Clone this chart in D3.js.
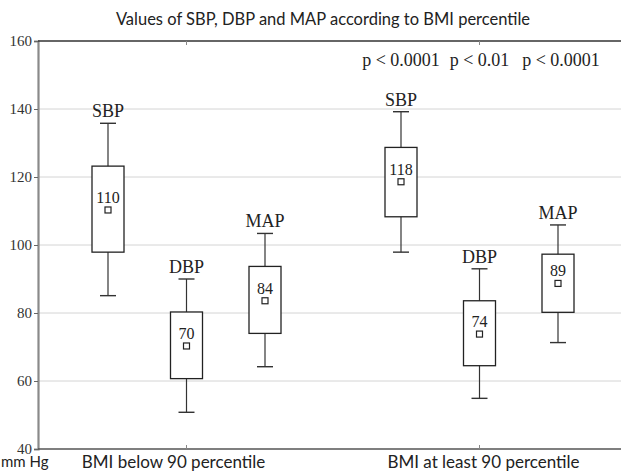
<!DOCTYPE html>
<html>
<head>
<meta charset="utf-8">
<script src="https://cdn.jsdelivr.net/npm/d3@7"></script>
<style>
	body { margin: 0; background: #fff; }
	svg { display: block; }
</style>
</head>
<body>
<svg id="chart" width="621" height="472"></svg>
<script>
/*
	Box plot of SBP, DBP and MAP split by BMI percentile
*/

var groups = ['BMI below 90 percentile', 'BMI at least 90 percentile'];
var measures = ['SBP', 'DBP', 'MAP'];

// one entry per box, in measure order, for each group
var whiskerLow  = [[85.1, 50.8, 64.2], [97.9, 54.9, 71.3]];
var boxLow      = [[97.9, 60.7, 74.0], [108.3, 64.5, 80.2]];
var meanValue   = [[110.3, 70.3, 83.6], [118.6, 73.8, 88.7]];
var boxHigh     = [[123.2, 80.3, 93.7], [128.7, 83.6, 97.3]];
var whiskerHigh = [[135.8, 90.0, 103.4], [139.2, 93.0, 105.9]];
var meanLabels  = [['110', '70', '84'], ['118', '74', '89']];

var pValues = ['p < 0.0001', 'p < 0.01', 'p < 0.0001'];
var yTicks = [40, 60, 80, 100, 120, 140, 160];

var title = 'Values of SBP, DBP and MAP according to BMI percentile';
var unitLabel = 'mm Hg';

(function(){
	var plotLeft = 38, plotRight = 621, plotTop = 41, plotBottom = 449;
	var SERIF = '"Liberation Serif", "Times New Roman", serif';
	var SANS = 'Lato, "Open Sans", sans-serif';

	var svg = d3.select('#chart');

	var y = d3.scaleLinear().domain([40, 160]).range([plotBottom, plotTop]);
	var xGroup = d3.scalePoint().domain(groups).range([plotLeft + 2, plotRight + 5]).padding(0.5);
	var xMeasure = d3.scalePoint().domain(measures).range([-78.5, 78.5]);

	// flatten into boxes
	var boxes = [];
	groups.forEach(function(g, gi){
		measures.forEach(function(m, mi){
			boxes.push({
				group: g, measure: m,
				lo: whiskerLow[gi][mi], q1: boxLow[gi][mi], mean: meanValue[gi][mi],
				q3: boxHigh[gi][mi], hi: whiskerHigh[gi][mi], label: meanLabels[gi][mi]
			});
		});
	});
	function bx(d){ return xGroup(d.group) + xMeasure(d.measure); }

	// gridlines
	svg.append('g').selectAll('line')
		.data(yTicks.filter(function(t){ return t > 40 && t < 160; }))
		.enter().append('line')
		.attr('x1', plotLeft).attr('x2', plotRight)
		.attr('y1', function(d){ return y(d); }).attr('y2', function(d){ return y(d); })
		.attr('stroke', '#d4d4d4').attr('stroke-width', 1);

	// y axis
	var yAxis = svg.append('g')
		.attr('transform', 'translate(' + plotLeft + ',0)')
		.call(d3.axisLeft(y).tickValues(yTicks).tickSize(4).tickPadding(2))
		.attr('font-family', SERIF)
		.attr('font-size', 15);
	yAxis.select('.domain').attr('stroke', '#8a8a8a').attr('stroke-width', 2.2);
	yAxis.selectAll('.tick line').attr('stroke', '#666');
	yAxis.selectAll('.tick text')
		.style('font-family', SERIF)
		.style('font-size', '15px')
		.attr('fill', '#333');

	// top frame and bottom axis
	svg.append('line').attr('x1', plotLeft).attr('x2', plotRight).attr('y1', plotTop).attr('y2', plotTop)
		.attr('stroke', '#333').attr('stroke-width', 1.4);
	svg.append('line').attr('x1', plotLeft).attr('x2', plotRight).attr('y1', plotBottom).attr('y2', plotBottom)
		.attr('stroke', '#555').attr('stroke-width', 1.6);

	// small inner ticks at the group centres, top and bottom
	groups.forEach(function(g){
		svg.append('line').attr('x1', xGroup(g)).attr('x2', xGroup(g))
			.attr('y1', plotTop).attr('y2', plotTop + 4).attr('stroke', '#888');
		svg.append('line').attr('x1', xGroup(g)).attr('x2', xGroup(g))
			.attr('y1', plotBottom).attr('y2', plotBottom - 4).attr('stroke', '#888');
	});

	var boxW = 32, capW = 16, dot = 6;

	var b = svg.append('g').selectAll('g').data(boxes).enter().append('g');

	// whiskers
	b.append('line')
		.attr('x1', bx).attr('x2', bx)
		.attr('y1', function(d){ return y(d.hi); }).attr('y2', function(d){ return y(d.lo); })
		.attr('stroke', '#333').attr('stroke-width', 1.2);
	b.append('line')
		.attr('x1', function(d){ return bx(d) - capW / 2; }).attr('x2', function(d){ return bx(d) + capW / 2; })
		.attr('y1', function(d){ return y(d.hi); }).attr('y2', function(d){ return y(d.hi); })
		.attr('stroke', '#333').attr('stroke-width', 1.4);
	b.append('line')
		.attr('x1', function(d){ return bx(d) - capW / 2; }).attr('x2', function(d){ return bx(d) + capW / 2; })
		.attr('y1', function(d){ return y(d.lo); }).attr('y2', function(d){ return y(d.lo); })
		.attr('stroke', '#333').attr('stroke-width', 1.4);

	// box
	b.append('rect')
		.attr('x', function(d){ return bx(d) - boxW / 2; })
		.attr('y', function(d){ return y(d.q3); })
		.attr('width', boxW)
		.attr('height', function(d){ return y(d.q1) - y(d.q3); })
		.attr('fill', '#fff').attr('stroke', '#222').attr('stroke-width', 1.3);

	// mean marker
	b.append('rect')
		.attr('x', function(d){ return bx(d) - dot / 2; })
		.attr('y', function(d){ return y(d.mean) - dot / 2; })
		.attr('width', dot).attr('height', dot)
		.attr('fill', '#fff').attr('stroke', '#222').attr('stroke-width', 1.2);

	// mean value
	b.append('text')
		.attr('x', bx).attr('y', function(d){ return y(d.mean) - 7; })
		.attr('text-anchor', 'middle')
		.style('font-family', SERIF).style('font-size', '16px').attr('fill', '#222')
		.text(function(d){ return d.label; });

	// measure name above whisker
	b.append('text')
		.attr('x', bx).attr('y', function(d){ return y(d.hi) - 6; })
		.attr('text-anchor', 'middle')
		.style('font-family', SERIF).style('font-size', '18px').attr('fill', '#222')
		.text(function(d){ return d.measure; });

	// p values over the second group
	svg.append('g').selectAll('text').data(pValues).enter().append('text')
		.attr('x', function(d, i){ return xGroup(groups[1]) + xMeasure(measures[i]) + (i == 2 ? 3 : 0); })
		.attr('y', 66)
		.attr('text-anchor', 'middle')
		.style('font-family', SERIF).style('font-size', '18px').attr('fill', '#222')
		.text(function(d){ return d; });

	// title
	svg.append('text')
		.attr('x', 323).attr('y', 25)
		.attr('text-anchor', 'middle')
		.style('font-family', SANS).style('font-size', '16.5px').attr('fill', '#222')
		.text(title);

	// category labels
	svg.append('g').selectAll('text').data(groups).enter().append('text')
		.attr('x', function(d, i){ return xGroup(d) + (i == 0 ? -13 : 4); })
		.attr('y', 468)
		.attr('text-anchor', 'middle')
		.style('font-family', SANS).style('font-size', '17px').attr('fill', '#222')
		.text(function(d){ return d; });

	svg.append('text')
		.attr('x', 1).attr('y', 467)
		.style('font-family', SANS).style('font-size', '15px').attr('fill', '#222')
		.text(unitLabel);
})();
</script>
</body>
</html>
